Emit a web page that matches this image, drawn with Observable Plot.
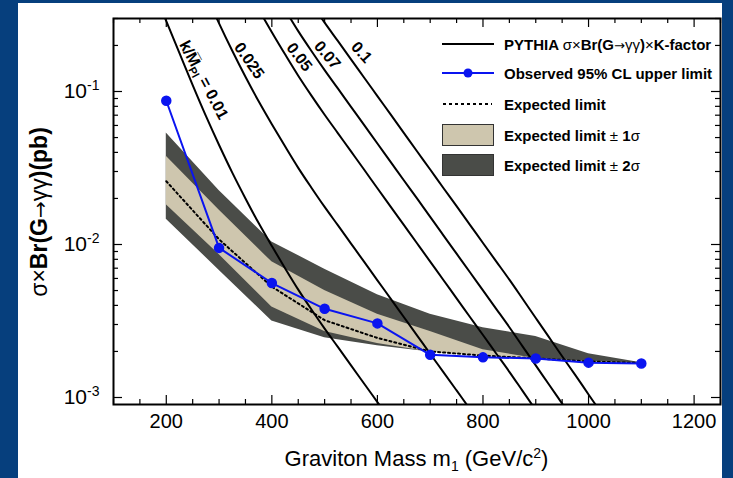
<!DOCTYPE html>
<html><head><meta charset="utf-8">
<script src="https://cdn.jsdelivr.net/npm/d3@7"></script>
<script src="https://cdn.jsdelivr.net/npm/@observablehq/plot@0.6"></script>
<style>
html,body{margin:0;padding:0;background:#063f7d;width:733px;height:478px;overflow:hidden;position:relative;}
#panel{position:absolute;left:18px;top:3px;width:704px;height:475px;background:#fff;}
#panel svg{display:block;}
.lg{position:absolute;left:442px;height:24px;display:flex;align-items:center;font-family:"Liberation Sans",Arial,sans-serif;font-weight:bold;font-size:15px;color:#000;white-space:nowrap;}
.lg svg{margin-right:10px;flex:none;}
.n{font-weight:normal;}
.ar{font-weight:normal;font-family:"DejaVu Sans",sans-serif;font-size:13px;}
</style></head><body>
<div id="panel"></div>
<div id="legend"></div>
<script>
// ---- limit data (pb) ----
const mass = [200, 300, 400, 500, 600, 700, 800, 900, 1000, 1100];
const observed = [0.087, 0.0095, 0.0056, 0.0038, 0.00305, 0.0019, 0.00183, 0.0018, 0.00169, 0.00167];
const expected = [0.0259, 0.0108, 0.0053, 0.0032, 0.00245, 0.0020, 0.00188, 0.0018, 0.00172, 0.00168];
const plus1 = [0.0377, 0.0168, 0.0077, 0.0050, 0.0035, 0.0027, 0.00205, 0.0018, 0.00172, 0.00168];
const minus1 = [0.0182, 0.0086, 0.0039, 0.0027, 0.00225, 0.00198, 0.00186, 0.0018, 0.00171, 0.00167];
const plus2 = [0.0535, 0.0225, 0.0104, 0.0069, 0.0047, 0.0035, 0.00286, 0.0025, 0.00193, 0.00169];
const minus2 = [0.0146, 0.0068, 0.00316, 0.00246, 0.00218, 0.00198, 0.00186, 0.0018, 0.00171, 0.00167];

// ---- PYTHIA sigma x Br x K curves ----
const thMass01 = [175,200,225,250,275,300,325,350,375,400,425,450,475,500,525,550,575,600,625];
const thXs01 = [0.468,0.288,0.178,0.110,0.0692,0.0447,0.0295,0.0200,0.0138,0.00977,0.00700,0.00507,0.00376,0.00282,0.00214,0.00162,0.00123,0.000933,0.000708];
const thMass025 = [275,300,325,350,375,400,425,450,475,500,525,550,575,600,625,650,675,700,725,750,775,800];
const thXs025 = [0.433,0.279,0.1845,0.1247,0.0863,0.0611,0.0438,0.0317,0.0235,0.0176,0.01337,0.01014,0.00769,0.00583,0.00443,0.00336,0.00255,0.00193,0.001466,0.001112,0.000843,0.00064];
const thMass05 = [350,375,400,425,450,475,500,525,550,575,600,625,650,675,700,725,750,775,800,825,850,875,900,925];
const thXs05 = [0.499,0.345,0.244,0.175,0.1268,0.0940,0.0705,0.0535,0.0406,0.0308,0.0233,0.0177,0.01343,0.01019,0.00773,0.00586,0.00445,0.00337,0.00256,0.00194,0.001472,0.001104,0.000828,0.000621];
const thMass07 = [400,425,450,475,500,525,550,575,600,625,650,675,700,725,750,775,800,825,850,875,900,925,950,975];
const thXs07 = [0.479,0.343,0.248,0.184,0.138,0.1047,0.0794,0.0603,0.0457,0.0347,0.0263,0.0200,0.01514,0.01148,0.00871,0.00661,0.00501,0.0038,0.00288,0.00216,0.00162,0.001216,0.000912,0.000684];
const thMass1 = [450,475,500,525,550,575,600,625,650,675,700,725,750,775,800,825,850,875,900,925,950,975,1000,1025];
const thXs1 = [0.507,0.376,0.282,0.214,0.162,0.123,0.0933,0.0708,0.0537,0.0407,0.0309,0.0234,0.0178,0.0135,0.01023,0.00776,0.00589,0.00442,0.00331,0.00248,0.00186,0.0014,0.001047,0.000785];

// curve labels (annotation anchor in data coords)
const curveLabels = ["k/M\u0305|Pl| = 0.01", "0.025", "0.05", "0.07", "0.1"];
const curveLabelMass = [271, 357, 452, 505, 570];
const curveLabelXs = [0.119, 0.159, 0.168, 0.173, 0.18];
const curveLabelAngle = [62, 55, 52, 50, 48];

// ---- axes ticks ----
const xMajor = [200, 400, 600, 800, 1000, 1200];
const xMinor = [100,150,250,300,350,450,500,550,650,700,750,850,900,950,1050,1100,1150,1250];
const yMajor = [0.001, 0.01, 0.1];
const yMinor = [0.002,0.003,0.004,0.005,0.006,0.007,0.008,0.009,0.02,0.03,0.04,0.05,0.06,0.07,0.08,0.09,0.2,0.3];

const dark = "#4a4c48", beige = "#cec6ae", blue = "#0a14f0";

const limits = mass.map((m, i) => ({mass: m, obs: observed[i], exp: expected[i], p1: plus1[i], m1: minus1[i], p2: plus2[i], m2: minus2[i]}));
const theory = [
  ["0.01", thMass01, thXs01], ["0.025", thMass025, thXs025], ["0.05", thMass05, thXs05],
  ["0.07", thMass07, thXs07], ["0.1", thMass1, thXs1]
].flatMap(([k, ms, vs]) => ms.map((m, i) => ({k, mass: m, xs: vs[i]})));
const labels = curveLabels.map((t, i) => ({t, mass: curveLabelMass[i], xs: curveLabelXs[i], a: curveLabelAngle[i]}));

const W = 704, H = 475, mL = 95, mR = 2, mT = 15, mB = 74;
const fw = W - mL - mR, fh = H - mT - mB;

const svg = Plot.plot({
  width: W, height: H,
  marginLeft: mL, marginRight: mR, marginTop: mT, marginBottom: mB,
  style: {fontFamily: "'Liberation Sans', Arial, sans-serif", fontSize: "19px", color: "black", background: "white"},
  x: {type: "linear", domain: [100, 1250]},
  y: {type: "log", domain: [0.0009, 0.3]},
  marks: [
    Plot.areaY(limits, {x: "mass", y1: "m2", y2: "p2", fill: dark}),
    Plot.areaY(limits, {x: "mass", y1: "m1", y2: "p1", fill: beige}),
    Plot.line(limits, {x: "mass", y: "exp", stroke: "black", strokeWidth: 2, strokeDasharray: "2,3"}),
    Plot.line(theory, {x: "mass", y: "xs", z: "k", stroke: "black", strokeWidth: 2, curve: "catmull-rom", clip: true}),
    Plot.line(limits, {x: "mass", y: "obs", stroke: blue, strokeWidth: 2}),
    Plot.dot(limits, {x: "mass", y: "obs", r: 4.5, fill: blue, stroke: blue}),
    Plot.text(labels, {x: "mass", y: "xs", text: "t", rotate: "a", fontSize: 16, fontWeight: "bold", fill: "black"}),
    // ticks (inward, on all sides)
    Plot.tickX(xMajor, {x: d => d, insetTop: fh - 9, stroke: "black", strokeWidth: 1.2}),
    Plot.tickX(xMinor, {x: d => d, insetTop: fh - 5, stroke: "black", strokeWidth: 1.2}),
    Plot.tickX(xMajor, {x: d => d, insetBottom: fh - 9, stroke: "black", strokeWidth: 1.2}),
    Plot.tickX(xMinor, {x: d => d, insetBottom: fh - 5, stroke: "black", strokeWidth: 1.2}),
    Plot.tickY(yMajor, {y: d => d, insetRight: fw - 9, stroke: "black", strokeWidth: 1.2}),
    Plot.tickY(yMinor, {y: d => d, insetRight: fw - 5, stroke: "black", strokeWidth: 1.2}),
    Plot.tickY(yMajor, {y: d => d, insetLeft: fw - 9, stroke: "black", strokeWidth: 1.2}),
    Plot.tickY(yMinor, {y: d => d, insetLeft: fw - 5, stroke: "black", strokeWidth: 1.2}),
    Plot.axisX({ticks: xMajor, tickFormat: d => String(d), tickSize: 0, tickPadding: 9, label: null, fontSize: 20}),
    Plot.axisY({ticks: yMajor, tickFormat: d => "10^" + Math.round(Math.log10(d)), tickSize: 0, tickPadding: 14, label: null, fontSize: 21}),
    Plot.frame({stroke: "black", strokeWidth: 2})
  ]
});

const s = d3.select(svg);
// superscript exponents on y tick labels
s.selectAll('[aria-label="y-axis tick label"] text').each(function () {
  const [b, e] = this.textContent.split("^");
  const t = d3.select(this).text(null);
  t.append("tspan").text(b);
  t.append("tspan").attr("dy", "-8").attr("font-size", "14px").text(e);
});
// subscript for M_Pl
s.selectAll("text").each(function () {
  const c = this.textContent;
  if (c.includes("|")) {
    const [a, b, c2] = c.split("|");
    const t = d3.select(this).text(null);
    t.append("tspan").text(a);
    t.append("tspan").attr("dy", "4").attr("font-size", "11px").text(b);
    t.append("tspan").attr("dy", "-4").text(c2);
  }
});
// axis titles
const xt = s.append("text").attr("x", mL + fw / 2).attr("y", 463).attr("text-anchor", "middle")
  .attr("font-size", "22px").attr("fill", "black");
xt.append("tspan").text("Graviton Mass m");
xt.append("tspan").attr("dy", "5").attr("font-size", "14px").text("1");
xt.append("tspan").attr("dy", "-5").text(" (GeV/c");
xt.append("tspan").attr("dy", "-8").attr("font-size", "14px").text("2");
xt.append("tspan").attr("dy", "8").text(")");

const yt = s.append("text").attr("transform", "translate(29,209) rotate(-90)").attr("text-anchor", "middle")
  .attr("font-size", "23px").attr("font-weight", "bold").attr("fill", "black");
yt.append("tspan").attr("font-weight", "normal").text("σ×");
yt.append("tspan").text("Br(G");
yt.append("tspan").attr("font-weight", "normal").attr("font-family", "'DejaVu Sans', sans-serif").attr("font-size", "20px").text("→");
yt.append("tspan").attr("font-weight", "normal").text("γγ");
yt.append("tspan").text(")(pb)");

document.getElementById("panel").appendChild(svg);

// legend (inside frame, top right)
const legendRows = [
  {top: 32, sw: '<line x1="0" y1="12" x2="52" y2="12" stroke="black" stroke-width="2"/>', html: 'PYTHIA <span class="n">σ×</span>Br(G<span class="ar">→</span><span class="n">γγ</span>)<span class="n">×</span>K-factor'},
  {top: 61, sw: `<line x1="0" y1="12" x2="52" y2="12" stroke="${blue}" stroke-width="2"/><circle cx="26" cy="12" r="4.5" fill="${blue}"/>`, html: 'Observed 95% CL upper limit'},
  {top: 92, sw: '<line x1="1" y1="12" x2="50" y2="12" stroke="black" stroke-width="2" stroke-dasharray="3,3"/>', html: 'Expected limit'},
  {top: 123, sw: `<rect x="0.5" y="1.5" width="51" height="21" fill="${beige}" stroke="#333" stroke-width="1"/>`, html: 'Expected limit<span class="n"> ±</span> 1<span class="n">σ</span>'},
  {top: 153, sw: `<rect x="0.5" y="1.5" width="51" height="21" fill="${dark}" stroke="#333" stroke-width="1"/>`, html: 'Expected limit<span class="n"> ±</span> 2<span class="n">σ</span>'}
];
const lg = document.getElementById("legend");
for (const r of legendRows) {
  const d = document.createElement("div");
  d.className = "lg";
  d.style.top = r.top + "px";
  d.innerHTML = `<svg width="52" height="24">${r.sw}</svg><span>${r.html}</span>`;
  lg.appendChild(d);
}
</script>
</body></html>
